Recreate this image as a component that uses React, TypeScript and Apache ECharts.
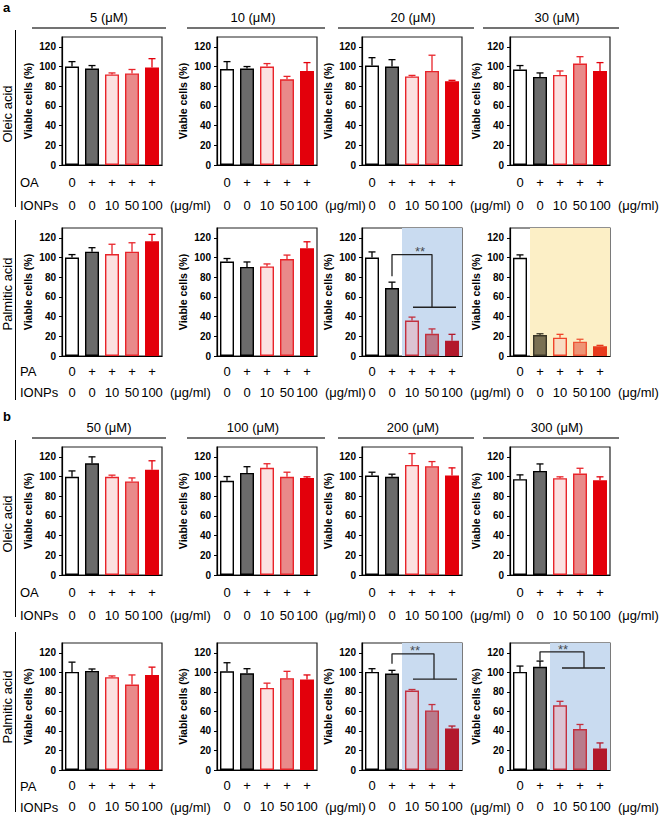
import React, { useEffect, useRef } from 'react';
import * as echarts from 'echarts';

// ---------- data ----------
const concA = ['5 (μM)', '10 (μM)', '20 (μM)', '30 (μM)'];
const concB = ['50 (μM)', '100 (μM)', '200 (μM)', '300 (μM)'];
const rowNames = ['Oleic acid', 'Palmitic acid', 'Oleic acid', 'Palmitic acid'];
const treatNames = ['OA', 'PA', 'OA', 'PA'];
const faMarks = ['0', '+', '+', '+', '+'];
const ionpDoses = ['0', '0', '10', '50', '100'];
const doseUnit = '(μg/ml)';
const yName = 'Viable cells (%)';

const oleicAMean = [
  [100, 98, 92, 93, 99],
  [97.5, 98, 100, 87, 95.5],
  [101, 100, 90, 95.5, 85],
  [97, 89.5, 91.5, 103, 95.5],
];
const oleicASd = [
  [5, 3, 1.5, 4, 9],
  [7.5, 2, 3, 3, 8.5],
  [8, 7, 1, 16, 1],
  [4, 4, 4, 7, 8.5],
];
const palmAMean = [
  [100, 106, 103.5, 106, 116.5],
  [96, 90.5, 91, 98.5, 109.5],
  [100, 69, 36, 22.5, 15.5],
  [99.7, 21.3, 18.6, 14.5, 9.8],
];
const palmASd = [
  [3, 4, 10, 9, 7],
  [3, 5, 2.5, 4, 6.5],
  [5.7, 6, 3.5, 5, 6.5],
  [3, 1.3, 3.4, 2.5, 1],
];
const oleicBMean = [
  [99.7, 113.5, 99.7, 95, 107],
  [95.6, 103.7, 108.8, 99.7, 98.6],
  [101, 99.7, 111.8, 110.5, 101],
  [97.3, 105.7, 98.3, 103, 96.3],
];
const oleicBSd = [
  [6, 6.5, 1.7, 3.6, 9],
  [4.4, 6.3, 4.2, 4.7, 1.1],
  [3.4, 2.7, 11.5, 4.7, 7.8],
  [4.4, 7.1, 1.4, 5.4, 3.4],
];
const palmBMean = [
  [100.4, 101.4, 95, 87.5, 97.3],
  [101, 99, 84, 94, 92.6],
  [100.4, 98.7, 81.4, 61, 42.6],
  [100.4, 105.7, 66.2, 41.9, 22],
];
const palmBSd = [
  [10, 2, 1.3, 9.8, 8],
  [8.8, 4.7, 4.9, 7, 4.7],
  [3.3, 3.3, 1, 6, 2.4],
  [6, 5.8, 4.1, 4.7, 5.7],
];

// significance brackets (category-index x, value y)
const bracketA20 = [[1, 81], [1, 103], [3, 103], [3, 49.5]];
const groupA20 = [[2.05, 49.5], [4.2, 49.5]];
const starA20 = [2.4, 106];
const bracketB200 = [[1, 108.8], [1, 118.9], [3.1, 118.9], [3.1, 93]];
const groupB200 = [[2.05, 93], [4.25, 93]];
const starB200 = [2.15, 122];
const bracketB300 = [[1, 112], [1, 121], [3.2, 121], [3.2, 104.4]];
const groupB300 = [[2.1, 104.4], [4.25, 104.4]];
const starB300 = [2.15, 123];

// highlighted zones: start category position
const blueStart = 1.5;
const yellowStart = 0.5;

// ---------- styles ----------
const FONT = '"Liberation Sans", Arial, Helvetica, sans-serif';
const normalFill = ['#ffffff', '#6b6b6b', '#fbe1e1', '#e98a8a', '#e3000b'];
const normalStroke = ['#000000', '#000000', '#e8242a', '#e8242a', '#e3000b'];
const blueFill = ['#ffffff', '#6b6b6b', '#dcc4d3', '#b97b8c', '#b3192c'];
const blueStroke = ['#000000', '#000000', '#c3303e', '#c3303e', '#b3192c'];
const yellowFill = ['#ffffff', '#7a7052', '#f8dcc2', '#ee9474', '#e73a1c'];
const yellowStroke = ['#000000', '#3a3626', '#f0452b', '#ee5636', '#e73a1c'];
const blueBg = '#c9dbf0';
const yellowBg = '#fcefc6';

const colLeft = [62, 217, 362, 510];
const rowTop = [37, 228, 447, 643];
const boxW = 100;
const boxH = 128;
const labelLH = [23, 21, 23, 21];
const labelMargin = [6, 5, 6, 5];

export default function App() {
  const ref = useRef<HTMLDivElement>(null);

  useEffect(() => {
    document.body.style.margin = '0';
    if (!ref.current) return;
    const chart = echarts.init(ref.current, undefined, { renderer: 'svg' });

    const means = [oleicAMean, palmAMean, oleicBMean, palmBMean];
    const sds = [oleicASd, palmASd, oleicBSd, palmBSd];
    const cats = faMarks.map((m, i) => m + '\n' + ionpDoses[i]);

    const grid: any[] = [];
    const xAxis: any[] = [];
    const yAxis: any[] = [];
    const series: any[] = [];
    const graphic: any[] = [];

    const panelKind = (r: number, c: number) => {
      if (r === 1 && c === 2) return 'blue';
      if (r === 1 && c === 3) return 'yellow';
      if (r === 3 && (c === 2 || c === 3)) return 'blue';
      return 'normal';
    };

    for (let r = 0; r < 4; r++) {
      for (let c = 0; c < 4; c++) {
        const g = r * 4 + c;
        grid.push({
          left: colLeft[c], top: rowTop[r], width: boxW, height: boxH,
          show: true, borderColor: '#222', borderWidth: 1.2, backgroundColor: 'transparent',
        });
        xAxis.push({
          type: 'category', gridIndex: g, data: cats, z: 5,
          axisLine: { show: true, onZero: false, lineStyle: { color: '#000', width: 1.2 } },
          axisTick: { show: false },
          axisLabel: {
            interval: 0, margin: labelMargin[r], lineHeight: labelLH[r],
            fontSize: 13, color: '#000', fontFamily: FONT,
          },
        });
        xAxis.push({ type: 'value', gridIndex: g, min: -0.5, max: 4.5, show: false });
        yAxis.push({
          type: 'value', gridIndex: g, min: 0, max: 130, interval: 20, z: 5,
          name: yName, nameLocation: 'middle', nameGap: 29,
          nameTextStyle: { fontWeight: 'bold', fontSize: 10.5, color: '#000', fontFamily: FONT },
          axisLine: { show: true, onZero: false, lineStyle: { color: '#000', width: 1.2 } },
          axisTick: { show: true, length: 3, lineStyle: { color: '#000' } },
          axisLabel: {
            showMaxLabel: false, fontWeight: 'bold', fontSize: 10, color: '#000',
            fontFamily: FONT, margin: 6,
            formatter: (v: number) => (v > 120 ? '' : String(v)),
          },
          splitLine: { show: false },
        });

        const kind = panelKind(r, c);
        const fill = kind === 'blue' ? blueFill : kind === 'yellow' ? yellowFill : normalFill;
        const stroke = kind === 'blue' ? blueStroke : kind === 'yellow' ? yellowStroke : normalStroke;
        const m = means[r][c];
        const s = sds[r][c];

        if (kind !== 'normal') {
          const bg = kind === 'blue' ? blueBg : yellowBg;
          const start = kind === 'blue' ? blueStart : yellowStart;
          series.push({
            type: 'custom', xAxisIndex: 2 * g + 1, yAxisIndex: g, z: 1, silent: true,
            data: [[start, 4.5]],
            renderItem: (params: any, api: any) => {
              const p0 = api.coord([api.value(0), 130]);
              const p1 = api.coord([api.value(1), 0]);
              return {
                type: 'rect',
                shape: { x: p0[0], y: p0[1], width: p1[0] - p0[0], height: p1[1] - p0[1] },
                style: { fill: bg },
              };
            },
          });
        }

        series.push({
          type: 'bar', xAxisIndex: 2 * g, yAxisIndex: g, barWidth: 14, z: 2, silent: true,
          data: m.map((v, i) => ({
            value: v,
            itemStyle: { color: fill[i], borderColor: stroke[i], borderWidth: 1.4 },
          })),
        });

        series.push({
          type: 'custom', xAxisIndex: 2 * g, yAxisIndex: g, z: 3, silent: true,
          data: m.map((v, i) => [i, v, s[i]]),
          renderItem: (params: any, api: any) => {
            const i = api.value(0);
            const mv = api.value(1);
            const sv = api.value(2);
            const p0 = api.coord([i, mv]);
            const p1 = api.coord([i, mv + sv]);
            const col = stroke[params.dataIndex];
            return {
              type: 'group',
              children: [
                { type: 'line', shape: { x1: p0[0], y1: p0[1], x2: p1[0], y2: p1[1] }, style: { stroke: col, lineWidth: 1.3 } },
                { type: 'line', shape: { x1: p1[0] - 3.5, y1: p1[1], x2: p1[0] + 3.5, y2: p1[1] }, style: { stroke: col, lineWidth: 1.3 } },
              ],
            };
          },
        });

        let br: number[][] | null = null, gl: number[][] | null = null, st: number[] | null = null;
        if (r === 1 && c === 2) { br = bracketA20; gl = groupA20; st = starA20; }
        if (r === 3 && c === 2) { br = bracketB200; gl = groupB200; st = starB200; }
        if (r === 3 && c === 3) { br = bracketB300; gl = groupB300; st = starB300; }
        if (br && gl && st) {
          const ls = { color: '#222', width: 1.3 };
          series.push({ type: 'line', xAxisIndex: 2 * g + 1, yAxisIndex: g, z: 4, silent: true, symbol: 'none', data: br, lineStyle: ls });
          series.push({ type: 'line', xAxisIndex: 2 * g + 1, yAxisIndex: g, z: 4, silent: true, symbol: 'none', data: gl, lineStyle: ls });
          series.push({
            type: 'scatter', xAxisIndex: 2 * g + 1, yAxisIndex: g, z: 4, silent: true,
            symbolSize: 1, itemStyle: { color: 'transparent' }, data: [st],
            label: { show: true, position: 'inside', formatter: '**', fontSize: 13, color: '#222', fontFamily: FONT },
          });
        }
      }
    }

    // section letters and headers
    const headerY = [17, 427];
    const headerLineY = [28, 438];
    const headerCenters = [109, 253, 413, 557];
    const headerSegs = [[32, 166], [187, 325], [338, 474], [483, 619]];
    graphic.push({ type: 'text', left: 3, top: 1, style: { text: 'a', font: `bold 13px ${FONT}`, fill: '#000' } });
    graphic.push({ type: 'text', left: 3, top: 410, style: { text: 'b', font: `bold 13px ${FONT}`, fill: '#000' } });
    [concA, concB].forEach((conc, k) => {
      conc.forEach((t, c) => {
        graphic.push({
          type: 'text', x: headerCenters[c], y: headerY[k],
          style: { text: t, font: `13px ${FONT}`, fill: '#000', align: 'center', verticalAlign: 'middle' },
        });
        graphic.push({
          type: 'line', shape: { x1: headerSegs[c][0], y1: headerLineY[k], x2: headerSegs[c][1], y2: headerLineY[k] },
          style: { stroke: '#444', lineWidth: 1.5 },
        });
      });
    });

    const sideLine = [[30, 207], [220, 400], [440, 617], [632, 812]];
    const sideTextY = [114, 294, 524, 707];
    for (let r = 0; r < 4; r++) {
      graphic.push({
        type: 'line', shape: { x1: 15.5, y1: sideLine[r][0], x2: 15.5, y2: sideLine[r][1] },
        style: { stroke: '#000', lineWidth: 1 },
      });
      graphic.push({
        type: 'text', x: 7, y: sideTextY[r], rotation: Math.PI / 2,
        style: { text: rowNames[r], font: `13px ${FONT}`, fill: '#000', align: 'center', verticalAlign: 'middle' },
      });
      const bottom = rowTop[r] + boxH;
      const y1 = bottom + labelMargin[r] + labelLH[r] / 2;
      const y2 = y1 + labelLH[r];
      graphic.push({
        type: 'text', x: 20, y: y1,
        style: { text: treatNames[r], font: `13px ${FONT}`, fill: '#000', align: 'left', verticalAlign: 'middle' },
      });
      graphic.push({
        type: 'text', x: 20, y: y2,
        style: { text: 'IONPs', font: `13px ${FONT}`, fill: '#000', align: 'left', verticalAlign: 'middle' },
      });
      for (let c = 0; c < 4; c++) {
        graphic.push({
          type: 'text', x: colLeft[c] + 108, y: y2,
          style: { text: doseUnit, font: `13px ${FONT}`, fill: '#000', align: 'left', verticalAlign: 'middle' },
        });
      }
    }

    chart.setOption({
      animation: false,
      backgroundColor: '#ffffff',
      grid, xAxis, yAxis, series, graphic,
    });
    return () => chart.dispose();
  }, []);

  return <div ref={ref} style={{ width: 661, height: 817 }} />;
}
